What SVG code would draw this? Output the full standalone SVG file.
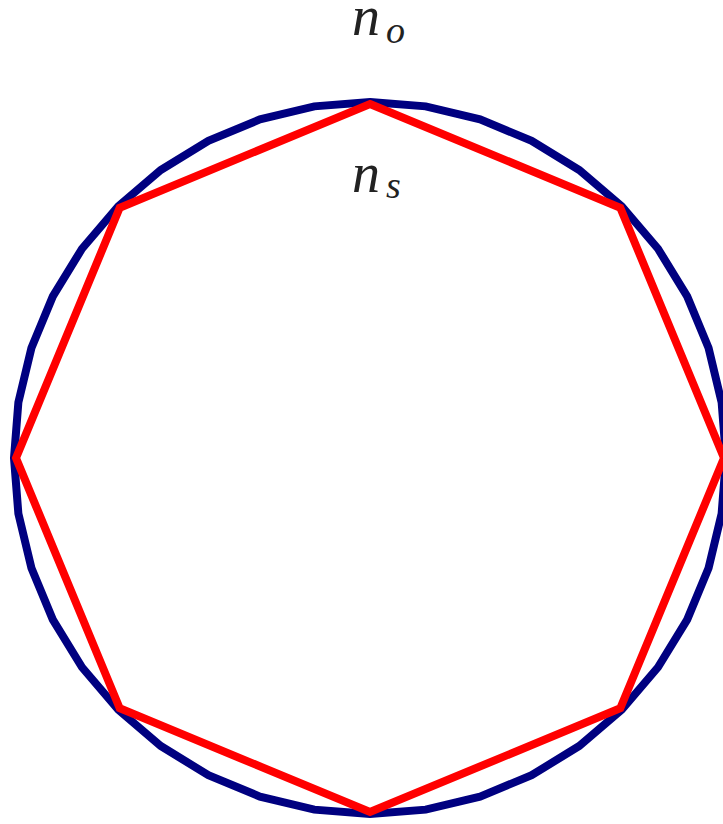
<svg xmlns="http://www.w3.org/2000/svg" width="723" height="824" viewBox="0 0 723 824">
<style>
.lbl{font-family:"Liberation Serif","DejaVu Serif",serif;font-style:italic;fill:#222}
.blue{fill:none;stroke:#000080;stroke-width:8;stroke-linejoin:miter}
.red{fill:none;stroke:#ff0000;stroke-width:8;stroke-linejoin:miter;stroke-miterlimit:10}
</style>
<rect width="723" height="824" fill="#ffffff"/>
<g id="connectors">
<polygon id="outer" class="blue" points="370,102 425.69,106.38 480.01,119.42 531.62,140.8 579.25,169.99 621.73,206.27 658.01,248.75 687.2,296.38 708.58,347.99 721.62,402.31 726,458 721.62,513.69 708.58,568.01 687.2,619.62 658.01,667.25 621.73,709.73 579.25,746.01 531.62,775.2 480.01,796.58 425.69,809.62 370,814 314.31,809.62 259.99,796.58 208.38,775.2 160.75,746.01 118.27,709.73 81.99,667.25 52.8,619.62 31.42,568.01 18.38,513.69 14,458 18.38,402.31 31.42,347.99 52.8,296.38 81.99,248.75 118.27,206.27 160.75,169.99 208.38,140.8 259.99,119.42 314.31,106.38"/>
<polygon id="inner" class="red" points="370,104 620.3,207.7 724,458 620.3,708.3 370,812 119.7,708.3 16,458 119.7,207.7"/>
</g>
<g id="label-no">
<text class="lbl" x="352" y="35" font-size="56">n</text>
<text class="lbl" x="386" y="43" font-size="38">o</text>
</g>
<g id="label-ns">
<text class="lbl" x="352" y="192" font-size="56">n</text>
<text class="lbl" x="386" y="198" font-size="38">s</text>
</g>
</svg>
